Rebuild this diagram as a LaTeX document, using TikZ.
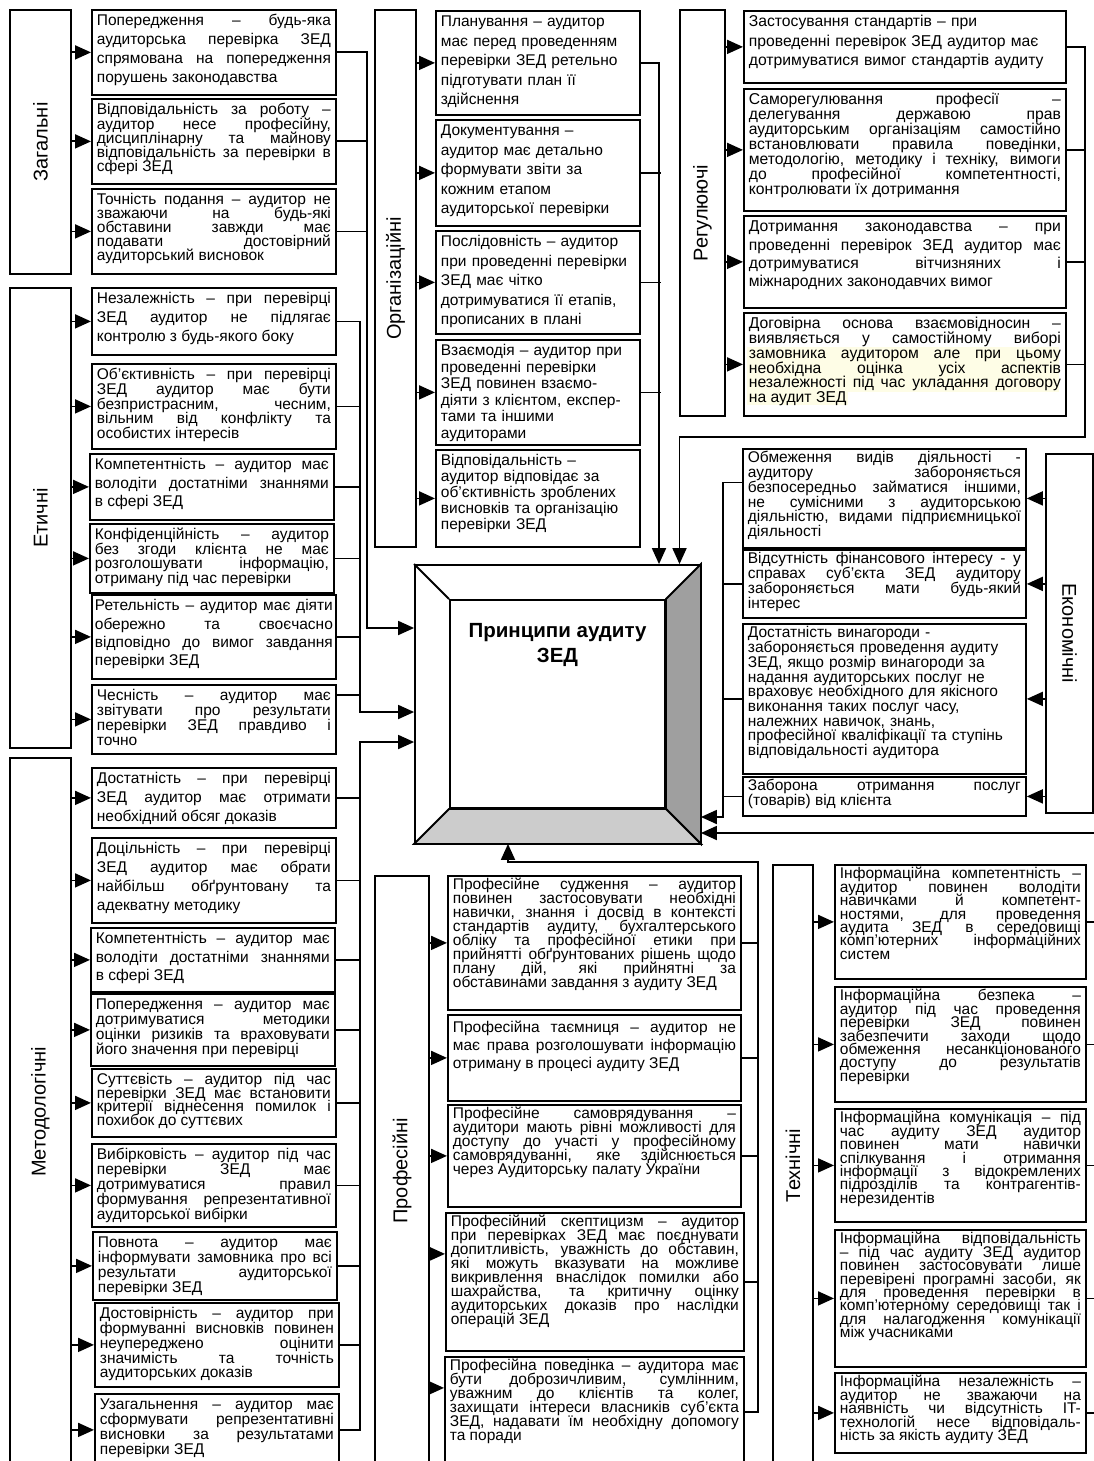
\documentclass[tikz,border=0pt]{standalone}
\usepackage{fontspec}
\usepackage{graphicx}
\usepackage{xcolor}
\usepackage{tikz}
\usetikzlibrary{arrows.meta}
\setmainfont{Liberation Sans}
\definecolor{hilite}{RGB}{254,253,230}
\lineskiplimit=-100pt
\normallineskiplimit=-100pt
\newcommand{\catfont}{\fontsize{20}{24}\selectfont}
\newcommand{\corefont}{\fontsize{20.5}{25}\selectfont\bfseries}
\tikzset{
  catbox/.style={draw, line width=1.8pt, anchor=north west, inner sep=0pt, font=\catfont},
  itembox/.style={draw, line width=1.8pt, anchor=north west, inner xsep=5pt, inner ysep=3pt, align=justify},
  leftitem/.style={itembox, text width=234pt, text height=13pt, font=\fontsize{15.5}{15}\selectfont},
  orgitem/.style={itembox, text width=194pt, text height=13pt, align=left, font=\fontsize{15.5}{19.5}\selectfont},
  regitem/.style={itembox, text width=312pt, text height=13pt, font=\fontsize{15.7}{15}\selectfont},
  ecoitem/.style={itembox, text width=273pt, text height=11pt, font=\fontsize{15.5}{14.7}\selectfont},
  profitem/.style={itembox, text width=283pt, text height=11pt, font=\fontsize{15.5}{14}\selectfont},
  techitem/.style={itembox, text width=241pt, text height=11pt, font=\fontsize{15.5}{13.4}\selectfont},
  lsp/.style={execute at begin node={\baselineskip=#1pt\normalbaselineskip=#1pt}},
  wire/.style={line width=1.8pt},
  feed/.style={wire, -{Triangle[length=16pt,width=14pt]}},
}
\begin{document}
\begin{tikzpicture}[x=1pt, y=-1pt]
    \useasboundingbox (0,0) rectangle (1093,1461);

    % central block
    \node [draw, line width=1.8pt, fill=white, inner sep=0pt, minimum width=285pt, minimum height=278pt] (core) at (557.5,704) {};
    \node [draw, line width=1.8pt, inner sep=0pt, minimum width=215pt, minimum height=208pt] (face) at (557.5,704) {};
    \filldraw [line width=1.8pt, fill=gray!75] (core.north east) -- (core.south east) -- (face.south east) -- (face.north east) -- cycle;
    \filldraw [line width=1.8pt, fill=gray!40] (core.south west) -- (core.south east) -- (face.south east) -- (face.south west) -- cycle;
    \draw [line width=1.8pt] (core.north west) -- (face.north west);
    \node [font=\corefont, align=center] (title) at (557.5,645) {Принципи аудиту\\ЗЕД};

    % Загальні
    \node [catbox, minimum width=61pt, minimum height=264pt] (zag) at (9,9) {\rotatebox{90}{Загальні}};
    \node [leftitem, lsp=18.8, text depth=66pt] (zag1) at (91,9) {Попередження – будь-яка\linebreak аудиторська перевірка ЗЕД\linebreak спрямована на попередження\linebreak порушень законодавства};
    \node [leftitem, lsp=14.2, text depth=66pt] (zag2) at (91,98) {Відповідальність за роботу –\linebreak аудитор несе професійну,\linebreak дисциплінарну та майнову\linebreak відповідальність за перевірки в\linebreak сфері ЗЕД};
    \node [leftitem, lsp=13.9, text depth=66pt] (zag3) at (91,188) {Точність подання – аудитор не\linebreak зважаючи на будь-які\linebreak обставини завжди має\linebreak подавати достовірний\linebreak аудиторський висновок};

    % Етичні
    \node [catbox, minimum width=61pt, minimum height=460pt] (et) at (9,287) {\rotatebox{90}{Етичні}};
    \node [leftitem, lsp=19, text depth=48pt] (et1) at (91,287) {Незалежність – при перевірці\linebreak ЗЕД аудитор не підлягає\linebreak контролю з будь-якого боку};
    \node [leftitem, lsp=14.6, text depth=66pt] (et2) at (91,363) {Об’єктивність – при перевірці\linebreak ЗЕД аудитор має бути\linebreak безпристрасним, чесним,\linebreak вільним від конфлікту та\linebreak особистих інтересів};
    \node [leftitem, lsp=18.3, text depth=47pt] (et3) at (89,453) {Компетентність – аудитор має\linebreak володіти достатніми знаннями\linebreak в сфері ЗЕД};
    \node [leftitem, lsp=14.5, text depth=50pt] (et4) at (89,523) {Конфіденційність – аудитор\linebreak без згоди клієнта не має\linebreak розголошувати інформацію,\linebreak отриману під час перевірки};
    \node [leftitem, lsp=18.3, text depth=65pt, inner xsep=3pt, text width=238pt] (et5) at (91,594) {Ретельність – аудитор має діяти\linebreak обережно та своєчасно\linebreak відповідно до вимог завдання\linebreak перевірки ЗЕД};
    \node [leftitem, lsp=15, text depth=50pt] (et6) at (91,684) {Чесність – аудитор має\linebreak звітувати про результати\linebreak перевірки ЗЕД правдиво і\linebreak точно};

    % Методологічні
    \node [catbox, minimum width=61pt, minimum height=708pt] (met) at (9,757) {\rotatebox{90}{Методологічні}};
    \node [leftitem, lsp=19, text depth=41pt] (m1) at (91,767) {Достатність – при перевірці\linebreak ЗЕД аудитор має отримати\linebreak необхідний обсяг доказів};
    \node [leftitem, lsp=19, text depth=66pt] (m2) at (91,837) {Доцільність – при перевірці\linebreak ЗЕД аудитор має обрати\linebreak найбільш обґрунтовану та\linebreak адекватну методику};
    \node [leftitem, lsp=18.3, text depth=45pt] (m3) at (90,927) {Компетентність – аудитор має\linebreak володіти достатніми знаннями\linebreak в сфері ЗЕД};
    \node [leftitem, lsp=14.8, text depth=53pt] (m4) at (90,993) {Попередження – аудитор має\linebreak дотримуватися методики\linebreak оцінки ризиків та враховувати\linebreak його значення при перевірці};
    \node [leftitem, lsp=13.5, text depth=49pt] (m5) at (91,1068) {Суттєвість – аудитор під час\linebreak перевірки ЗЕД має встановити\linebreak критерії віднесення помилок і\linebreak похибок до суттєвих};
    \node [leftitem, lsp=15, text depth=64pt] (m6) at (91,1143) {Вибірковість – аудитор під час\linebreak перевірки ЗЕД має\linebreak дотримуватися правил\linebreak формування репрезентативної\linebreak аудиторської вибірки};
    \node [leftitem, lsp=15, text depth=49pt] (m7) at (92,1231) {Повнота – аудитор має\linebreak інформувати замовника про всі\linebreak результати аудиторської\linebreak перевірки ЗЕД};
    \node [leftitem, lsp=14.7, text depth=65pt] (m8) at (94,1302) {Достовірність – аудитор при\linebreak формуванні висновків повинен\linebreak неупереджено оцінити\linebreak значимість та точність\linebreak аудиторських доказів};
    \node [leftitem, lsp=15, text depth=53pt] (m9) at (94,1393) {Узагальнення – аудитор має\linebreak сформувати репрезентативні\linebreak висновки за результатами\linebreak перевірки ЗЕД};

    % Організаційні
    \node [catbox, minimum width=41pt, minimum height=537pt] (org) at (374,9) {\rotatebox{90}{Організаційні}};
    \node [orgitem, text depth=85pt] (o1) at (435,10) {Планування – аудитор\\ має перед проведенням\\ перевірки ЗЕД ретельно\\ підготувати план її\\ здійснення};
    \node [orgitem, text depth=87pt] (o2) at (435,119) {Документування –\\ аудитор має детально\\ формувати звіти за\\ кожним етапом\\ аудиторської перевірки};
    \node [orgitem, text depth=84pt] (o3) at (435,230) {Послідовність – аудитор\\ при проведенні перевірки\\ ЗЕД має чітко\\ дотримуватися її етапів,\\ прописаних в плані};
    \node [orgitem, lsp=16.5, text depth=86pt] (o4) at (435,339) {Взаємодія – аудитор при\\ проведенні перевірки\\ ЗЕД повинен взаємо-\\ діяти з клієнтом, експер-\\ тами та іншими\\ аудиторами};
    \node [orgitem, lsp=16, text depth=78pt] (o5) at (435,449) {Відповідальність –\\ аудитор відповідає за\\ об’єктивність зроблених\\ висновків та організацію\\ перевірки ЗЕД};

    % Регулюючі
    \node [catbox, minimum width=45pt, minimum height=406pt] (reg) at (679,9) {\rotatebox{90}{Регулюючі}};
    \node [regitem, align=left, lsp=19.3, text depth=53pt] (r1) at (743,10) {Застосування стандартів – при\\ проведенні перевірок ЗЕД аудитор має\\ дотримуватися вимог стандартів аудиту};
    \node [regitem, lsp=15, text depth=103pt] (r2) at (743,88) {Саморегулювання професії –\linebreak делегування державою прав\linebreak аудиторським організаціям самостійно\linebreak встановлювати правила поведінки,\linebreak методологію, методику і техніку, вимоги\linebreak до професійної компетентності,\linebreak контролювати їх дотримання};
    \node [regitem, lsp=18.3, text depth=73pt] (r3) at (743,215) {Дотримання законодавства – при\linebreak проведенні перевірок ЗЕД аудитор має\linebreak дотримуватися вітчизняних і\linebreak міжнародних законодавчих вимог};
    \fill [hilite] (747,347) rectangle (1059,392);
    \fill [hilite] (747,392) rectangle (848,405);
    \node [regitem, lsp=14.7, text depth=84pt] (r4) at (743,312) {Договірна основа взаємовідносин –\linebreak виявляється у самостійному виборі\linebreak замовника аудитором але при цьому\linebreak необхідна оцінка усіх аспектів\linebreak незалежності під час укладання договору\linebreak на аудит ЗЕД};

    % Економічні
    \node [catbox, minimum width=47pt, minimum height=359pt] (eco) at (1045,453) {\rotatebox{-90}{Економічні}};
    \node [ecoitem, text depth=82pt] (e1) at (742,448) {Обмеження видів діяльності -\linebreak аудитору забороняється\linebreak безпосередньо займатися іншими,\linebreak не сумісними з аудиторською\linebreak діяльністю, видами підприємницької\linebreak діяльності};
    \node [ecoitem, text depth=51pt] (e2) at (742,549) {Відсутність фінансового інтересу - у\linebreak справах суб’єкта ЗЕД аудитору\linebreak забороняється мати будь-який\linebreak інтерес};
    \node [ecoitem, align=left, text depth=133pt] (e3) at (742,623) {Достатність винагороди -\\ забороняється проведення аудиту\\ ЗЕД, якщо розмір винагороди за\\ надання аудиторських послуг не\\ враховує необхідного для якісного\\ виконання таких послуг часу,\\ належних навичок, знань,\\ професійної кваліфікації та ступінь\\ відповідальності аудитора};
    \node [ecoitem, text depth=22pt] (e4) at (742,776) {Заборона отримання послуг\linebreak (товарів) від клієнта};

    % Професійні
    \node [catbox, minimum width=54pt, minimum height=590pt] (prof) at (374,875) {\rotatebox{90}{Професійні}};
    \node [profitem, text depth=117pt] (p1) at (447,875) {Професійне судження – аудитор\linebreak повинен застосовувати необхідні\linebreak навички, знання і досвід в контексті\linebreak стандартів аудиту, бухгалтерського\linebreak обліку та професійної етики при\linebreak прийнятті обґрунтованих рішень щодо\linebreak плану дій, які прийнятні за\linebreak обставинами завдання з аудиту ЗЕД};
    \node [profitem, lsp=18, text height=15pt, text depth=65pt] (p2) at (447,1014) {Професійна таємниця – аудитор не\linebreak має права розголошувати інформацію\linebreak отриману в процесі аудиту ЗЕД};
    \node [profitem, text depth=85pt] (p3) at (447,1104) {Професійне самоврядування –\linebreak аудитори мають рівні можливості для\linebreak доступу до участі у професійному\linebreak самоврядуванні, яке здійснюється\linebreak через Аудиторську палату України};
    \node [profitem, text width=288pt, text depth=121pt] (p4) at (445,1212) {Професійний скептицизм – аудитор\linebreak при перевірках ЗЕД має поєднувати\linebreak допитливість, уважність до обставин,\linebreak які можуть вказувати на можливе\linebreak викривлення внаслідок помилки або\linebreak шахрайства, та критичну оцінку\linebreak аудиторських доказів про наслідки\linebreak операцій ЗЕД};
    \node [profitem, text width=289pt, text depth=93pt] (p5) at (444,1356) {Професійна поведінка – аудитора має\linebreak бути доброзичливим, сумлінним,\linebreak уважним до клієнтів та колег,\linebreak захищати інтереси власників суб’єкта\linebreak ЗЕД, надавати їм необхідну допомогу\linebreak та поради};

    % Технічні
    \node [catbox, minimum width=40pt, minimum height=601pt] (tech) at (772,864) {\rotatebox{90}{Технічні}};
    \node [techitem, text depth=97pt] (t1) at (834,864) {Інформаційна компетентність –\linebreak аудитор повинен володіти\linebreak навичками й компетент-\linebreak ностями, для проведення\linebreak аудита ЗЕД в середовищі\linebreak комп'ютерних інформаційних\linebreak систем};
    \node [techitem, text depth=98pt] (t2) at (834,986) {Інформаційна безпека –\linebreak аудитор під час проведення\linebreak перевірки ЗЕД повинен\linebreak забезпечити заходи щодо\linebreak обмеження несанкціонованого\linebreak доступу до результатів\linebreak перевірки};
    \node [techitem, text depth=96pt] (t3) at (834,1108) {Інформаційна комунікація – під\linebreak час аудиту ЗЕД аудитор\linebreak повинен мати навички\linebreak спілкування і отримання\linebreak інформації з відокремлених\linebreak підрозділів та контрагентів-\linebreak нерезидентів};
    \node [techitem, text depth=120pt] (t4) at (834,1229) {Інформаційна відповідальність\linebreak – під час аудиту ЗЕД аудитор\linebreak повинен застосовувати лише\linebreak перевірені програмні засоби, як\linebreak для проведення перевірки в\linebreak комп’ютерному середовищі так і\linebreak для налагодження комунікації\linebreak між учасниками};
    \node [techitem, text depth=63pt] (t5) at (834,1372) {Інформаційна незалежність –\linebreak аудитор не зважаючи на\linebreak наявність чи відсутність IT-\linebreak технологій несе відповідаль-\linebreak ність за якість аудиту ЗЕД};

    % arrows from the groups to their items
    \draw [feed] (zag.east |- zag1.west) -- (zag1.west);
    \draw [feed] (zag.east |- zag2.west) -- (zag2.west);
    \draw [feed] (zag.east |- zag3.west) -- (zag3.west);
    \draw [feed] (et.east |- et1.west) -- (et1.west);
    \draw [feed] (et.east |- et2.west) -- (et2.west);
    \draw [feed] (et.east |- et3.west) -- (et3.west);
    \draw [feed] (et.east |- et4.west) -- (et4.west);
    \draw [feed] (et.east |- et5.west) -- (et5.west);
    \draw [feed] (et.east |- et6.west) -- (et6.west);
    \draw [feed] (met.east |- m1.west) -- (m1.west);
    \draw [feed] (met.east |- m2.west) -- (m2.west);
    \draw [feed] (met.east |- m3.west) -- (m3.west);
    \draw [feed] (met.east |- m4.west) -- (m4.west);
    \draw [feed] (met.east |- m5.west) -- (m5.west);
    \draw [feed] (met.east |- m6.west) -- (m6.west);
    \draw [feed] (met.east |- m7.west) -- (m7.west);
    \draw [feed] (met.east |- m8.west) -- (m8.west);
    \draw [feed] (met.east |- m9.west) -- (m9.west);
    \draw [feed] (org.east |- o1.west) -- (o1.west);
    \draw [feed] (org.east |- o2.west) -- (o2.west);
    \draw [feed] (org.east |- o3.west) -- (o3.west);
    \draw [feed] (org.east |- o4.west) -- (o4.west);
    \draw [feed] (org.east |- o5.west) -- (o5.west);
    \draw [feed] (reg.east |- r1.west) -- (r1.west);
    \draw [feed] (reg.east |- r2.west) -- (r2.west);
    \draw [feed] (reg.east |- r3.west) -- (r3.west);
    \draw [feed] (reg.east |- r4.west) -- (r4.west);
    \draw [feed] (eco.west |- e1.east) -- (e1.east);
    \draw [feed] (eco.west |- e2.east) -- (e2.east);
    \draw [feed] (eco.west |- e3.east) -- (e3.east);
    \draw [feed] (eco.west |- e4.east) -- (e4.east);
    \draw [feed] (prof.east |- p1.west) -- (p1.west);
    \draw [feed] (prof.east |- p2.west) -- (p2.west);
    \draw [feed] (prof.east |- p3.west) -- (p3.west);
    \draw [feed] ([yshift=28pt]prof.east |- p4.west) -- ([yshift=28pt]p4.west);
    \draw [feed] ([yshift=24pt]prof.east |- p5.west) -- ([yshift=24pt]p5.west);
    \draw [feed] (tech.east |- t1.west) -- (t1.west);
    \draw [feed] (tech.east |- t2.west) -- (t2.west);
    \draw [feed] (tech.east |- t3.west) -- (t3.west);
    \draw [feed] (tech.east |- t4.west) -- (t4.west);
    \draw [feed] (tech.east |- t5.west) -- (t5.west);

    % buses into the central block
    \coordinate (zagbus) at (367,628);
    \draw [feed] (zag1.east) -| (zagbus) -- (zagbus -| core.west);
    \draw [wire] (zag2.east) -- (zag2.east -| zagbus);
    \draw [wire] (zag3.east) -- (zag3.east -| zagbus);

    \coordinate (etbus) at (360,712);
    \draw [feed] (et1.east) -| (etbus) -- (etbus -| core.west);
    \draw [wire] (et2.east) -- (et2.east -| etbus);
    \draw [wire] (et3.east) -- (et3.east -| etbus);
    \draw [wire] (et4.east) -- (et4.east -| etbus);
    \draw [wire] (et5.east) -- (et5.east -| etbus);
    \draw [wire] ([yshift=-11pt]et6.north east) -| (etbus);

    \coordinate (metbus) at (360,742);
    \draw [feed] (m9.east) -| (metbus) -- (metbus -| core.west);
    \draw [wire] (m1.east) -- (m1.east -| metbus);
    \draw [wire] (m2.east) -- (m2.east -| metbus);
    \draw [wire] (m3.east) -- (m3.east -| metbus);
    \draw [wire] (m4.east) -- (m4.east -| metbus);
    \draw [wire] (m5.east) -- (m5.east -| metbus);
    \draw [wire] (m6.east) -- (m6.east -| metbus);
    \draw [wire] (m7.east) -- (m7.east -| metbus);
    \draw [wire] (m8.east) -- (m8.east -| metbus);

    \draw [feed] (o1.east) -| ([xshift=101.5pt]core.north);
    \draw [wire] (o2.east) -- +(20,0);
    \draw [wire] (o3.east) -- +(20,0);
    \draw [wire] (o4.east) -- +(20,0);

    \coordinate (regturn) at (1085,437);
    \draw [feed] (r1.east) -| (regturn) -| ([xshift=122pt]core.north);
    \draw [wire] (r2.east) -- (r2.east -| regturn);
    \draw [wire] (r3.east) -- (r3.east -| regturn);
    \draw [wire] (r4.east) -- (r4.east -| regturn);

    \coordinate (ecobus) at (723,817);
    \draw [feed] ([yshift=16pt]e1.west) -| (ecobus) -- (ecobus -| core.east);
    \draw [wire] (e2.west) -- (e2.west -| ecobus);
    \draw [wire] (e3.west) -- (e3.west -| ecobus);
    \draw [wire] (e4.west) -- (e4.west -| ecobus);

    \coordinate (techbus) at (1098,833);
    \draw [feed] (t5.east) -| (techbus) -- (techbus -| core.east);
    \draw [wire] (t1.east) -- (t1.east -| techbus);
    \draw [wire] (t2.east) -- (t2.east -| techbus);
    \draw [wire] (t3.east) -- (t3.east -| techbus);
    \draw [wire] (t4.east) -- (t4.east -| techbus);

    \coordinate (profturn) at (758,862);
    \draw [feed] (p5.east) -| (profturn) -| ([xshift=-49.5pt]core.south);
    \draw [wire] (p1.east) -- (p1.east -| profturn);
    \draw [wire] (p2.east) -- (p2.east -| profturn);
    \draw [wire] (p3.east) -- (p3.east -| profturn);
    \draw [wire] (p4.east) -- (p4.east -| profturn);
\end{tikzpicture}
\end{document}
